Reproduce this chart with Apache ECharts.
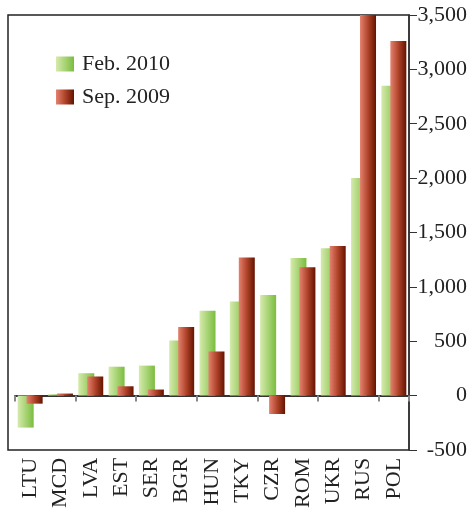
<!DOCTYPE html>
<html>
<head>
<meta charset="utf-8">
<script src="https://cdn.jsdelivr.net/npm/echarts@6/dist/echarts.min.js"></script>
<style>html,body{margin:0;padding:0;background:#fff}#c{width:475px;height:511px}</style>
</head>
<body>
<div id="c"></div>
<script>
const categories = ['LTU','MCD','LVA','EST','SER','BGR','HUN','TKY','CZR','ROM','UKR','RUS','POL'];
const feb2010 = [-295, 12, 205, 265, 275, 505, 780, 865, 925, 1265, 1355, 2000, 2850];
const sep2009 = [-75, 18, 175, 85, 55, 630, 405, 1270, -170, 1180, 1375, 3500, 3260];
const yTicks = { min: -500, max: 3500, interval: 500 };

const FONT = 'Liberation Serif';
const greenGrad = new echarts.graphic.LinearGradient(0, 0, 1, 0, [
  { offset: 0, color: '#d6eaad' },
  { offset: 1, color: '#7abd3e' }
]);
const redGrad = new echarts.graphic.LinearGradient(0, 0, 1, 0, [
  { offset: 0, color: '#e4826f' },
  { offset: 0.5, color: '#b0442a' },
  { offset: 1, color: '#641300' }
]);

const chart = echarts.init(document.getElementById('c'));
chart.setOption({
  animation: false,
  backgroundColor: '#fff',
  grid: { left: 15, right: 66, top: 15, bottom: 61, containLabel: false },
  graphic: [{
    type: 'rect', z: 0,
    shape: { x: 8, y: 15, width: 401, height: 435 },
    style: { fill: 'none', stroke: '#222', lineWidth: 1.5 }
  }],
  legend: {
    orient: 'vertical', left: 56, top: 53, padding: 0,
    itemWidth: 18, itemHeight: 15, itemGap: 11,
    icon: 'rect',
    textStyle: { fontFamily: FONT, fontSize: 22, color: '#222', padding: [0, 0, 0, 3] },
    data: ['Feb. 2010', 'Sep. 2009']
  },
  xAxis: [{
    type: 'category', data: categories, position: 'bottom',
    axisLine: { onZero: true, lineStyle: { color: '#333', width: 2 } },
    axisTick: { show: true, length: 6, lineStyle: { color: '#888', width: 2 } },
    axisLabel: { show: false },
    splitLine: { show: false }
  }, {
    type: 'category', data: categories, position: 'bottom',
    axisLine: { show: false, onZero: false },
    axisTick: { show: false },
    axisLabel: { rotate: 90, fontFamily: FONT, fontSize: 22, color: '#222', margin: 8, interval: 0 },
    splitLine: { show: false }
  }],
  yAxis: {
    type: 'value', position: 'right',
    min: yTicks.min, max: yTicks.max, interval: yTicks.interval,
    axisLine: { show: true, lineStyle: { color: '#333', width: 1.5 } },
    axisTick: { show: true, inside: false, length: 8, lineStyle: { color: '#333' } },
    axisLabel: {
      margin: 58, align: 'right', fontFamily: FONT, fontSize: 22, color: '#222',
      formatter: v => v.toLocaleString('en-US')
    },
    splitLine: { show: false }
  },
  series: [{
    name: 'Feb. 2010', type: 'bar', data: feb2010,
    barWidth: 16, barGap: '-44%',
    itemStyle: { color: greenGrad }
  }, {
    name: 'Sep. 2009', type: 'bar', data: sep2009,
    barWidth: 16, barGap: '-44%',
    itemStyle: { color: redGrad }
  }]
});
</script>
</body>
</html>
